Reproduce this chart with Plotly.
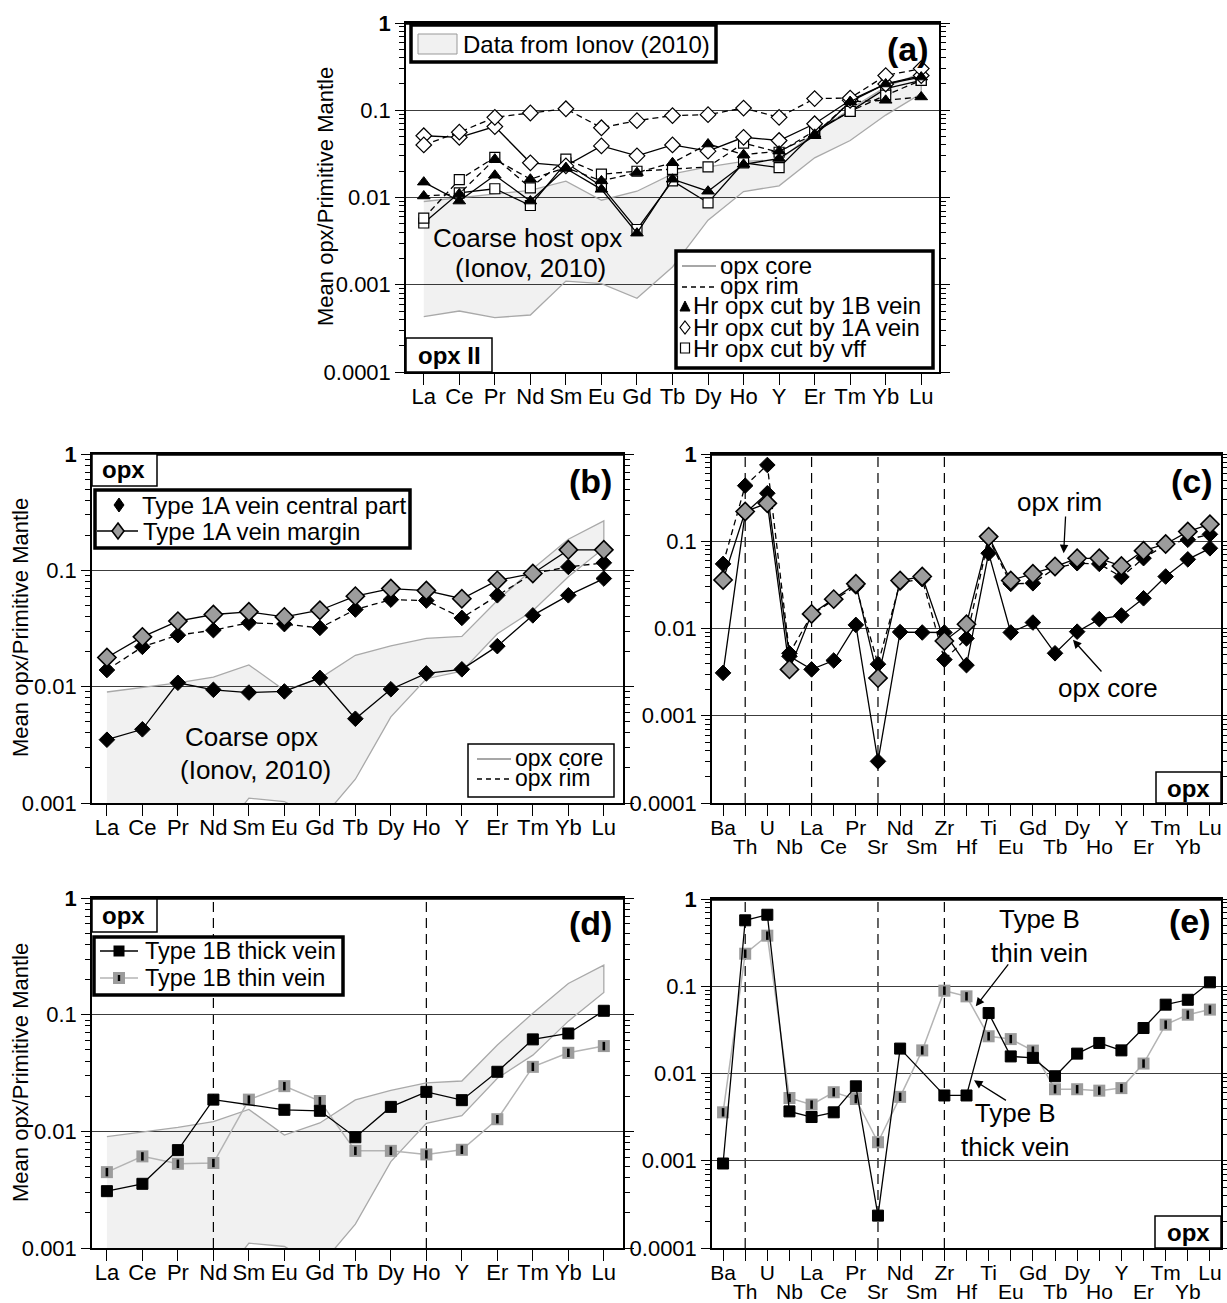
import plotly.graph_objects as go

# ---------------- categories / tick labels ----------------
REE = ["La", "Ce", "Pr", "Nd", "Sm", "Eu", "Gd", "Tb", "Dy", "Ho", "Y", "Er", "Tm", "Yb", "Lu"]
TRACE = ["Ba", "Th", "U", "Nb", "La", "Ce", "Pr", "Sr", "Nd", "Sm", "Zr", "Hf", "Ti",
         "Eu", "Gd", "Tb", "Dy", "Ho", "Y", "Er", "Tm", "Yb", "Lu"]
Y_TICKVALS = [1, 0.1, 0.01, 0.001, 0.0001]
Y_TICKTEXT = ["<b>1</b>", "0.1", "0.01", "0.001", "0.0001"]

# ---------------- data ----------------
# Coarse host opx envelope (Ionov, 2010)
ionov_upper = [0.0090, 0.0099, 0.0108, 0.0121, 0.0154, 0.0093, 0.0118, 0.0186, 0.0224, 0.026, 0.027, 0.055, 0.103, 0.185, 0.266]
ionov_lower = [0.00043, 0.00050, 0.00042, 0.00045, 0.0011, 0.00103, 0.0007, 0.0016, 0.0055, 0.0117, 0.0136, 0.0285, 0.045, 0.088, 0.155]

# (a) opx II
a_tri_core = [0.0150, 0.0091, 0.0180, 0.0091, 0.0215, 0.0124, 0.0039, 0.0162, 0.0118, 0.024, 0.028, 0.051, 0.125, 0.20, 0.24]
a_tri_rim = [0.0104, 0.0110, 0.0275, 0.0162, 0.0220, 0.0155, 0.0193, 0.025, 0.041, 0.031, 0.034, 0.053, 0.125, 0.13, 0.142]
a_dia_core = [0.051, 0.049, 0.065, 0.025, 0.023, 0.039, 0.030, 0.040, 0.034, 0.049, 0.045, 0.070, 0.13, 0.20, 0.25]
a_dia_rim = [0.040, 0.056, 0.083, 0.093, 0.104, 0.063, 0.076, 0.087, 0.089, 0.106, 0.083, 0.136, 0.138, 0.25, 0.30]
a_sq_core = [0.0051, 0.0113, 0.0126, 0.0081, 0.025, 0.0135, 0.0043, 0.0155, 0.0087, 0.025, 0.022, 0.056, 0.097, 0.177, 0.22]
a_sq_rim = [0.0058, 0.0160, 0.0288, 0.0129, 0.0275, 0.0185, 0.020, 0.021, 0.0224, 0.042, 0.033, 0.058, 0.097, 0.149, 0.22]

# (b) Type 1A vein, REE
b_core = [0.0035, 0.0043, 0.0108, 0.0094, 0.0089, 0.0091, 0.0119, 0.0053, 0.0095, 0.013, 0.0141, 0.0223, 0.041, 0.061, 0.085]
b_rim = [0.0139, 0.022, 0.0277, 0.0306, 0.0354, 0.0345, 0.032, 0.046, 0.056, 0.055, 0.039, 0.061, 0.094, 0.107, 0.116]
b_margin = [0.0178, 0.0268, 0.0366, 0.0417, 0.044, 0.0398, 0.0454, 0.060, 0.0697, 0.067, 0.057, 0.082, 0.094, 0.150, 0.150]

# (c) Type 1A vein, trace elements
c_core = [0.0031, 0.21, 0.355, 0.0048, 0.0034, 0.0043, 0.011, 0.0003, 0.0091, 0.0090, 0.0090, 0.0038, 0.073,
          0.0090, 0.0117, 0.0052, 0.0092, 0.0128, 0.0141, 0.0222, 0.0394, 0.062, 0.083]
c_rim = [0.055, 0.434, 0.748, 0.0052, 0.0143, 0.0213, 0.0303, 0.0039, 0.0336, 0.0367, 0.0044, 0.0077, 0.108,
         0.0325, 0.033, 0.049, 0.056, 0.055, 0.039, 0.064, 0.091, 0.104, 0.12]
c_margin = [0.036, 0.219, 0.272, 0.0034, 0.0147, 0.0217, 0.0325, 0.0027, 0.0355, 0.0394, 0.0072, 0.0112, 0.113,
            0.0355, 0.0423, 0.0513, 0.0638, 0.0638, 0.052, 0.078, 0.093, 0.129, 0.157]

# (d) Type 1B veins, REE
d_thick = [0.00307, 0.00355, 0.0069, 0.0187, None, 0.0153, 0.0150, 0.0089, 0.0162, 0.0218, 0.0185, 0.0324, 0.0614, 0.069, 0.108]
d_thin = [0.00447, 0.0061, 0.00527, 0.00535, 0.0187, 0.0244, 0.0182, 0.0068, 0.0068, 0.00634, 0.00695, 0.0127, 0.0357, 0.0471, 0.0538]

# (e) Type B veins, trace elements
e_thick = [0.00093, 0.57, 0.66, 0.00368, 0.00317, 0.00359, 0.00713, 0.000235, 0.0193, None, 0.0056, 0.0056, 0.0493,
           0.0157, 0.0151, 0.0093, 0.0169, 0.0224, 0.0184, 0.0332, 0.0615, 0.070, 0.111]
e_thin = [0.00359, 0.236, 0.38, 0.00524, 0.0044, 0.0061, 0.0051, 0.00163, 0.0054, 0.0184, 0.089, 0.0766, 0.0267,
          0.0248, 0.0183, 0.0066, 0.0066, 0.00636, 0.0068, 0.013, 0.0363, 0.0472, 0.054]

# ---------------- geometry helpers (screen pixels -> paper) ----------------
W, H = 1227, 1303
FONT = "Liberation Sans, Arial, Helvetica, sans-serif"


def fx(sx):
    return sx / W


def fy(sy):
    return 1 - sy / H


DASH = "6px,4px"
GRAYM = "#9c9c9c"

fig = go.Figure()


def series(x, y, xa, ya, dash="solid", lcolor="black", lw=1.3, symbol="diamond", size=11,
           mcolor="black", mlcolor="black", mlw=1.0, gaps=False):
    fig.add_trace(go.Scatter(
        x=x, y=y, xaxis=xa, yaxis=ya, mode="lines+markers",
        line=dict(color=lcolor, width=lw, dash=dash),
        marker=dict(symbol=symbol, size=size, color=mcolor, line=dict(color=mlcolor, width=mlw)),
        connectgaps=gaps, showlegend=False, hoverinfo="skip"))


def bars(x, y, xa, ya):
    fig.add_trace(go.Scatter(
        x=x, y=y, xaxis=xa, yaxis=ya, mode="markers",
        marker=dict(symbol="line-ns", size=6, line=dict(color="black", width=2.6)),
        showlegend=False, hoverinfo="skip"))


def envelope(xa, ya):
    fig.add_trace(go.Scatter(
        x=REE + REE[::-1], y=ionov_upper + ionov_lower[::-1], xaxis=xa, yaxis=ya,
        mode="lines", fill="toself", fillcolor="rgba(0,0,0,0.055)",
        line=dict(color="#a9a9a9", width=1.3), showlegend=False, hoverinfo="skip"))


# ---- panel (a)
envelope("x", "y")
series(REE, a_sq_core, "x", "y", symbol="square", size=10, mcolor="white", mlw=1.2)
series(REE, a_sq_rim, "x", "y", dash=DASH, symbol="square", size=10, mcolor="white", mlw=1.2)
series(REE, a_dia_core, "x", "y", symbol="diamond", size=12, mcolor="white", mlw=1.2)
series(REE, a_dia_rim, "x", "y", dash=DASH, symbol="diamond", size=12, mcolor="white", mlw=1.2)
series(REE, a_tri_core, "x", "y", symbol="triangle-up", size=11)
series(REE, a_tri_rim, "x", "y", dash=DASH, symbol="triangle-up", size=11)

# ---- panel (b)
envelope("x2", "y2")
series(REE, b_core, "x2", "y2", symbol="diamond", size=12)
series(REE, b_rim, "x2", "y2", dash=DASH, symbol="diamond", size=12)
series(REE, b_margin, "x2", "y2", symbol="diamond", size=14, mcolor=GRAYM, mlw=1.6)

# ---- panel (c)
series(TRACE, c_core, "x3", "y3", symbol="diamond", size=12)
series(TRACE, c_rim, "x3", "y3", dash=DASH, symbol="diamond", size=12)
series(TRACE, c_margin, "x3", "y3", symbol="diamond", size=14, mcolor=GRAYM, mlw=1.6)

# ---- panel (d)
envelope("x4", "y4")
series(REE, d_thin, "x4", "y4", lcolor="#b4b4b4", lw=1.5, symbol="square", size=12, mcolor=GRAYM, mlw=0)
bars(REE, d_thin, "x4", "y4")
series(REE, d_thick, "x4", "y4", symbol="square", size=11, gaps=True)

# ---- panel (e)
series(TRACE, e_thin, "x5", "y5", lcolor="#b4b4b4", lw=1.5, symbol="square", size=12, mcolor=GRAYM, mlw=0)
bars(TRACE, e_thin, "x5", "y5")
series(TRACE, e_thick, "x5", "y5", symbol="square", size=11, gaps=True)

# ---------------- axes ----------------


def yaxis(dom, ndec, anchor):
    minor_vals = [m * 10 ** (-k) for k in range(1, ndec + 1) for m in range(2, 10)]
    return dict(
        type="log", domain=dom, range=[-ndec, 0], anchor=anchor, automargin=False,
        tickmode="array", tickvals=Y_TICKVALS[:ndec + 1], ticktext=Y_TICKTEXT[:ndec + 1],
        ticks="outside", ticklen=9, tickwidth=1.3, tickcolor="black",
        tickfont=dict(size=22, color="black", family=FONT),
        showline=True, linecolor="black", linewidth=1.5, mirror="ticks",
        showgrid=True, gridcolor="#3c3c3c", gridwidth=1.3, zeroline=False,
        minor=dict(tickmode="array", tickvals=minor_vals, ticks="outside", ticklen=5,
                   tickwidth=1, tickcolor="black", showgrid=False),
        fixedrange=True)


def xaxis(dom, cats, rng, anchor, text=None, size=22, standoff=-7):
    return dict(
        type="category", domain=dom, range=rng, anchor=anchor, automargin=False,
        tickmode="array", tickvals=cats, ticktext=text if text else cats,
        ticks="outside", ticklen=11, tickwidth=1.3, tickcolor="black",
        ticklabelstandoff=standoff,
        tickfont=dict(size=size, color="black", family=FONT), tickangle=0,
        showline=True, linecolor="black", linewidth=1.5, mirror=True,
        showgrid=False, zeroline=False, fixedrange=True)


trace_row1 = [n if i % 2 == 0 else "" for i, n in enumerate(TRACE)]

fig.update_layout(
    xaxis=xaxis([fx(406), fx(939)], REE, [-0.5, 14.5], "y"),
    yaxis=yaxis([fy(372), fy(23)], 4, "x"),
    xaxis2=xaxis([fx(92), fx(623)], REE, [-0.42, 14.54], "y2"),
    yaxis2=yaxis([fy(803), fy(454)], 3, "x2"),
    xaxis3=xaxis([fx(712), fx(1221)], TRACE, [-0.5, 22.5], "y3", trace_row1, 21, -6),
    yaxis3=yaxis([fy(803), fy(454)], 4, "x3"),
    xaxis4=xaxis([fx(92), fx(623)], REE, [-0.42, 14.54], "y4"),
    yaxis4=yaxis([fy(1248), fy(898)], 3, "x4"),
    xaxis5=xaxis([fx(712), fx(1221)], TRACE, [-0.5, 22.5], "y5", trace_row1, 21, -6),
    yaxis5=yaxis([fy(1248), fy(899)], 4, "x5"),
)

# ---------------- shapes & annotations ----------------
shapes = []
ann = []


def rect(x0, y0, x1, y1, lw=1.5, fill="white", lc="black"):
    shapes.append(dict(type="rect", xref="paper", yref="paper", x0=fx(x0), x1=fx(x1),
                       y0=fy(y1), y1=fy(y0), line=dict(color=lc, width=lw), fillcolor=fill, layer="above"))


def seg(x0, y0, x1, y1, color="black", width=1.3, dash="solid"):
    shapes.append(dict(type="line", xref="paper", yref="paper", x0=fx(x0), x1=fx(x1),
                       y0=fy(y0), y1=fy(y1), line=dict(color=color, width=width, dash=dash), layer="above"))


def poly(pts, fill, lc="black", lw=1.2):
    path = "M " + " L ".join(f"{fx(px):.5f},{fy(py):.5f}" for px, py in pts) + " Z"
    shapes.append(dict(type="path", xref="paper", yref="paper", path=path,
                       fillcolor=fill, line=dict(color=lc, width=lw), layer="above"))


def txt(sx, sy, text, size=24, xanchor="center", angle=0):
    ann.append(dict(x=fx(sx), y=fy(sy), xref="paper", yref="paper", text=text, showarrow=False,
                    font=dict(size=size, color="black", family=FONT), xanchor=xanchor,
                    yanchor="middle", textangle=angle))


def dtxt(xa, ya, x, logy, text, size=26):
    ann.append(dict(x=x, y=logy, xref=xa, yref=ya, text=text, showarrow=False,
                    font=dict(size=size, color="black", family=FONT), xanchor="center", yanchor="middle"))


def arrow(xa, ya, tip, tail):
    ann.append(dict(x=tip[0], y=tip[1], ax=tail[0], ay=tail[1], xref=xa, yref=ya, axref=xa, ayref=ya,
                    text="", showarrow=True, arrowhead=2, arrowsize=1.3, arrowwidth=1.3,
                    arrowcolor="black", standoff=0))


# vertical dashed reference lines
def vdash(xa, ya, name, cats):
    shapes.append(dict(type="line", xref=xa, yref=f"{ya} domain", x0=cats.index(name), x1=cats.index(name),
                       y0=0, y1=1, line=dict(color="black", width=1.2, dash="10px,6px"), layer="below"))


for nm in ["Th", "La", "Sr", "Zr"]:
    vdash("x3", "y3", nm, TRACE)
for nm in ["Th", "Sr", "Zr"]:
    vdash("x5", "y5", nm, TRACE)
for nm in ["Nd", "Ho"]:
    vdash("x4", "y4", nm, REE)

# thick top frame lines
for xa, ya in [("x", "y"), ("x2", "y2"), ("x3", "y3"), ("x4", "y4"), ("x5", "y5")]:
    shapes.append(dict(type="line", xref=f"{xa} domain", yref=f"{ya} domain", x0=0, x1=1, y0=1, y1=1,
                       line=dict(color="black", width=3.5), layer="above"))

# ----- panel (a) decorations
rect(411, 25, 716, 62, lw=3.5)
rect(418, 34, 457, 54, lw=1, fill="#f1f1f1", lc="#999999")
txt(461, 44, "Data from Ionov (2010)", 24, "left")
rect(676, 251, 933, 368, lw=3.5)
seg(682, 266, 716, 266, color="#8a8a8a", width=1.5)
txt(718, 265, "opx core", 24, "left")
seg(682, 287, 716, 287, dash="5px,4px")
txt(718, 286, "opx rim", 24, "left")
poly([(680, 311), (690, 311), (685, 301)], "black", lw=1)
txt(691, 306, "Hr opx cut by 1B vein", 24, "left")
poly([(685, 321), (690, 327.5), (685, 334), (680, 327.5)], "white", lw=1.2)
txt(691, 327, "Hr opx cut by 1A vein", 24, "left")
rect(680.5, 343, 689.5, 353, lw=1.2)
txt(691, 348, "Hr opx cut by vff", 24, "left")
rect(406, 338, 492, 372, lw=1.5)
txt(449, 355, "<b>opx II</b>", 24)
txt(908, 49, "<b>(a)</b>", 34)
txt(527, 238, "Coarse host opx", 26)
txt(530, 268, "(Ionov, 2010)", 26)
txt(325, 197, "Mean opx/Primitive Mantle", 22, angle=-90)

# ----- panel (b)
rect(92, 454, 157, 486, lw=1.5)
txt(124, 470, "<b>opx</b>", 24)
txt(590, 481, "<b>(b)</b>", 34)
rect(95, 490, 410, 548, lw=3.5)
poly([(119, 498), (124, 505), (119, 512), (114, 505)], "black", lw=1)
txt(140, 505, "Type 1A vein central part", 24, "left")
seg(97, 531, 138, 531)
poly([(118, 523), (124, 531), (118, 539), (112, 531)], GRAYM, lw=1.6)
txt(141, 531, "Type 1A vein margin", 24, "left")
rect(468, 744, 614, 797, lw=1.5)
seg(477, 759, 511, 759, color="#8a8a8a", width=1.5)
txt(513, 758, "opx core", 23, "left")
seg(477, 779, 511, 779, dash="5px,4px")
txt(513, 778, "opx rim", 23, "left")
txt(251, 737, "Coarse opx", 26)
txt(255, 770, "(Ionov, 2010)", 26)
txt(20, 628, "Mean opx/Primitive Mantle", 22, angle=-90)

# ----- panel (c)
txt(1192, 481, "<b>(c)</b>", 34)
rect(1156, 772, 1221, 803, lw=1.5)
txt(1188, 788, "<b>opx</b>", 24)
dtxt("x3", "y3", 15.22, -0.546, "opx rim")
arrow("x3", "y3", (15.39, -1.137), (15.48, -0.70))
dtxt("x3", "y3", 17.41, -2.683, "opx core")
arrow("x3", "y3", (15.81, -2.13), (17.16, -2.51))

# ----- panel (d)
rect(92, 899, 157, 932, lw=1.5)
txt(124, 915, "<b>opx</b>", 24)
txt(590, 923, "<b>(d)</b>", 34)
rect(94, 937, 343, 995, lw=3.5)
seg(100, 951, 138, 951)
rect(113.5, 945.5, 124.5, 956.5, lw=0, fill="black")
txt(143, 951, "Type 1B thick vein", 23.5, "left")
seg(100, 978, 138, 978, color="#b4b4b4", width=1.5)
rect(113, 972, 125, 984, lw=0, fill=GRAYM)
rect(117.8, 975, 120.2, 981, lw=0, fill="black")
txt(143, 978, "Type 1B thin vein", 23.5, "left")
txt(20, 1073, "Mean opx/Primitive Mantle", 22, angle=-90)

# ----- panel (e)
txt(1190, 921, "<b>(e)</b>", 34)
rect(1155, 1216, 1221, 1248, lw=1.5)
txt(1188, 1232, "<b>opx</b>", 24)
dtxt("x5", "y5", 14.28, -0.42, "Type B<br>thin vein")
arrow("x5", "y5", (11.42, -1.23), (12.94, -0.733))
dtxt("x5", "y5", 13.19, -2.65, "Type B<br>thick vein")
arrow("x5", "y5", (11.34, -2.078), (12.85, -2.319))

# second row of trace-element labels for (c) and (e)
for xa, sy in [("x3", 846), ("x5", 1291)]:
    for i, nm in enumerate(TRACE):
        if i % 2 == 1:
            ann.append(dict(x=nm, y=fy(sy), xref=xa, yref="paper", text=nm, showarrow=False,
                            font=dict(size=21, color="black", family=FONT),
                            xanchor="center", yanchor="middle"))

fig.update_layout(
    template="none",
    width=W, height=H, margin=dict(l=0, r=0, t=0, b=0, pad=0, autoexpand=False),
    paper_bgcolor="white", plot_bgcolor="white",
    font=dict(family=FONT, color="black"),
    showlegend=False, shapes=shapes, annotations=ann,
)

fig.write_html("out.html", config={"displayModeBar": False},
               post_script="document.body.style.margin='0px';document.body.style.overflow='hidden';")
